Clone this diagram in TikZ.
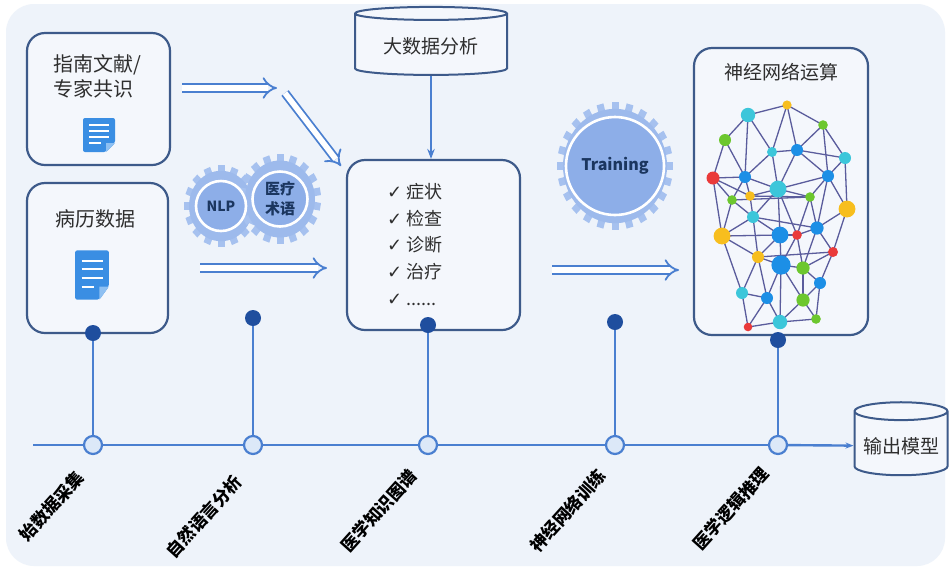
\documentclass[tikz,border=0pt]{standalone}
\usepackage{fontspec}
\setmainfont{Noto Sans CJK SC}
\newfontfamily\symfont{DejaVu Sans}
\usetikzlibrary{shapes.geometric,arrows.meta,positioning}

\definecolor{cardbg}{HTML}{EEF3FA}
\definecolor{boxfill}{HTML}{F4F7FC}
\definecolor{boxline}{HTML}{3D5A8A}
\definecolor{inktext}{HTML}{2E2E2E}
\definecolor{flowblue}{HTML}{4A7FD0}
\definecolor{ringfill}{HTML}{DCE8F8}
\definecolor{pinblue}{HTML}{1F4E9E}
\definecolor{gearteeth}{HTML}{A6C1EF}
\definecolor{gearbody}{HTML}{9DBAEC}
\definecolor{gearhub}{HTML}{8DAEE8}
\definecolor{inkhub}{HTML}{1B365F}
\definecolor{docblue}{HTML}{3A8EE3}
\definecolor{docfold}{HTML}{8EC0F2}
\definecolor{netline}{HTML}{5A5C9C}
\definecolor{netcyan}{HTML}{3CC6DA}
\definecolor{netblue}{HTML}{1C8FE6}
\definecolor{netgreen}{HTML}{6CC72E}
\definecolor{netyel}{HTML}{F7BE1E}
\definecolor{netred}{HTML}{EA3A3A}

\tikzset{
  docicon/.pic={
    \fill[docblue, rounded corners=1pt] (-16,-17) -- (16,-17) -- (16,8) -- (7,17) -- (-16,17) -- cycle;
    \fill[docfold] (16,8) -- (7,8) -- (7,17) -- cycle;
    \foreach \yy/\w in {-10/10, -4/10, 2/10, 8/2}
      \draw[white, line width=1pt] (-10,\yy) -- (\w,\yy);
  }
}

% dots of the network: name/x/y/colour/size
\def\netdots{n1/787/105/netyel/4.6, n2/748/115/netcyan/7.2, n3/823/125/netgreen/4.8,
  n4/725/140/netgreen/6, n5/772/152/netcyan/5, n6/797/150/netblue/6,
  n7/845/158/netcyan/6, n8/713/178/netred/6.5, n9/745/177/netblue/6,
  n10/828/176/netblue/6, n11/750/196/netyel/4.8, n12/778/189/netcyan/8.4,
  n13/732/200/netgreen/4.8, n14/810/197/netgreen/4.8, n15/847/209/netyel/8.4,
  n16/753/217/netcyan/6, n17/722/236/netyel/8.4, n18/780/235/netblue/8.4,
  n19/797/235/netred/4.8, n20/817/228/netblue/6.6, n21/833/252/netred/5,
  n22/758/257/netyel/6, n23/781/265/netblue/9.6, n24/803/268/netgreen/6.6,
  n25/820/283/netblue/6, n26/742/293/netcyan/6, n27/767/298/netblue/6,
  n28/803/300/netgreen/6.6, n29/748/327/netred/4.3, n30/780/322/netcyan/7.2,
  n31/816/319/netgreen/4.8}

\begin{document}
\begin{tikzpicture}[x=0.5pt, y=-0.5pt,
  infobox/.style={draw=boxline, line width=1.1pt, rounded corners=9pt, fill=boxfill},
  boxtext/.style={text=inktext, font=\fontsize{10}{12.5}\selectfont, align=left},
  dbcyl/.style={cylinder, shape border rotate=90, draw=boxline, line width=1pt,
    fill=boxfill, text=inktext, font=\fontsize{9.5}{11}\selectfont},
  fatarrow/.style={draw=flowblue, line width=0.9pt, double=white,
    double distance=2.8pt, -{Implies}},
  hub/.style={circle, fill=gearhub, draw=white, line width=1.3pt, inner sep=0pt,
    text=inkhub, font=\bfseries\fontsize{7}{8.5}\selectfont, align=center},
  ring/.style={circle, draw=flowblue, line width=1.1pt, fill=ringfill,
    minimum size=9pt, inner sep=0pt},
  pin/.style={circle, fill=pinblue, minimum size=8pt, inner sep=0pt},
  stem/.style={flowblue, line width=1.2pt},
  tllabel/.style={rotate=48, anchor=east, text=black,
    font=\bfseries\fontsize{8.6}{10}\selectfont},
  netdot/.style={circle, inner sep=0pt},
  netedge/.style={draw=netline, line width=0.65pt}]

  % card
  \fill[white] (0,0) rectangle (951,569);
  \fill[cardbg, rounded corners=14pt] (6,4) rectangle (945,566);
  \useasboundingbox (0,0) rectangle (951,569);

  % sources
  \node[infobox, minimum width=71.5pt, minimum height=66pt] (guide) at (98.5,99) {};
  \node[boxtext] (guidetxt) at (97,76) {指南文献/\\专家共识};
  \pic at (99,135) {docicon};
  \node[infobox, minimum width=70.5pt, minimum height=75pt] (record) at (97.5,258) {};
  \node[boxtext] (recordtxt) at (95,219) {病历数据};
  \pic[xscale=1.05, yscale=1.45] at (92,275) {docicon};

  % hollow arrows
  \coordinate (g1) at (182,88);  \coordinate (g2) at (277,88);
  \coordinate (g3) at (285,93);  \coordinate (g4) at (341,166);
  \coordinate (r1) at (200,268); \coordinate (r2) at (327,268);
  \coordinate (t1) at (552,270); \coordinate (t2) at (679,270);
  \draw[fatarrow] (g1) -- (g2);
  \draw[fatarrow] (g3) -- (g4);
  \draw[fatarrow] (r1) -- (r2);
  \draw[fatarrow] (t1) -- (t2);

  % gears
  \coordinate (nlpc) at (221,206);
  \coordinate (termc) at (280,199);
  \coordinate (trainc) at (615,166);
  \begin{scope}[shift={(nlpc)}, yscale=1.1]
    \foreach \a in {0,22.5,...,337.5}
      \fill[gearteeth, rotate=\a] (-3.5,-30) rectangle (3.5,-37);
    \fill[gearbody] (0,0) circle (32);
  \end{scope}
  \begin{scope}[shift={(termc)}, yscale=1.1]
    \foreach \a in {0,20,...,340}
      \fill[gearteeth, rotate=\a] (-3.5,-33) rectangle (3.5,-41);
    \fill[gearbody] (0,0) circle (35);
  \end{scope}
  \begin{scope}[shift={(trainc)}, yscale=1.1]
    \foreach \a in {0,15,...,345}
      \fill[gearteeth, rotate=\a] (-3.5,-50) rectangle (3.5,-58);
    \fill[gearbody] (0,0) circle (52);
  \end{scope}
  \node[hub, minimum size=25pt] (nlp) at (nlpc) {NLP};
  \node[hub, minimum size=27.5pt, font=\bfseries\fontsize{7.5}{10}\selectfont] (term) at (termc) {医疗\\术语};
  \node[hub, minimum size=49pt, font=\bfseries\fontsize{8}{9}\selectfont] (train) at (trainc) {Training};

  % knowledge graph
  \node[dbcyl, minimum width=76pt, minimum height=34pt, shape aspect=0.12] (bigdata) at (431,46) {大数据分析};
  \node[infobox, minimum width=86.5pt, minimum height=85pt] (kg) at (433.5,245) {};
  \draw[stem, -{Stealth[length=5pt]}] (bigdata.south) -- (bigdata.south |- kg.north);
  \node[boxtext, anchor=north west, font=\fontsize{9}{13.4}\selectfont] (kgitems) at (380,176)
    {{\symfont\small ✓} 症状\\ {\symfont\small ✓} 检查\\ {\symfont\small ✓} 诊断\\
     {\symfont\small ✓} 治疗\\ {\symfont\small ✓} ......};

  % neural network
  \node[infobox, minimum width=87pt, minimum height=143.5pt] (netbox) at (781,191.5) {};
  \node[boxtext, font=\fontsize{9.5}{11}\selectfont] (nettitle) at (781,72) {神经网络运算};
  \foreach \n/\x/\y/\c/\s in \netdots
    \coordinate (\n) at (\x,\y);
  \foreach \a/\b in {n2/n1, n1/n3, n3/n7, n2/n4, n4/n8, n2/n5, n1/n5, n1/n6,
      n3/n6, n6/n7, n5/n6, n2/n9, n4/n9, n8/n9, n5/n9, n5/n12, n6/n12, n6/n10,
      n7/n10, n3/n10, n8/n11, n8/n13, n9/n11, n9/n12, n11/n12, n12/n10,
      n12/n14, n10/n14, n10/n15, n7/n15, n13/n16, n11/n16, n12/n16, n8/n17,
      n13/n17, n16/n17, n16/n18, n12/n18, n12/n19, n14/n19, n14/n20, n15/n20,
      n10/n20, n18/n19, n19/n20, n15/n21, n20/n21, n17/n22, n16/n22, n18/n22,
      n18/n23, n19/n23, n22/n23, n19/n24, n23/n24, n21/n24, n20/n24, n21/n25,
      n24/n25, n17/n26, n22/n26, n22/n27, n23/n27, n26/n27, n23/n28, n24/n28,
      n25/n28, n23/n30, n27/n30, n26/n29, n29/n30, n30/n31, n28/n31, n25/n31,
      n28/n30, n29/n27, n13/n14, n11/n14, n22/n21, n13/n9, n16/n20, n17/n18}
    \draw[netedge] (\a) -- (\b);
  \foreach \n/\x/\y/\c/\s in \netdots
    \node[netdot, fill=\c, minimum size=\s pt] (v\n) at (\n) {};

  % time line
  \coordinate (tl) at (33,445);
  \node[ring] (c1) at (93,445) {};
  \node[ring] (c2) at (253,445) {};
  \node[ring] (c3) at (428,445) {};
  \node[ring] (c4) at (615,445) {};
  \node[ring] (c5) at (778,445) {};
  \node[dbcyl, minimum width=46.5pt, minimum height=36.5pt, shape aspect=0.2] (out) at (901,446) {输出模型};
  \draw[stem] (tl) -- (c1) (c1) -- (c2) (c2) -- (c3) (c3) -- (c4) (c4) -- (c5);
  \draw[stem, -{Stealth[length=4pt]}] (c5) -- (out);

  \node[pin] (p1) at (93,333) {};
  \node[pin] (p2) at (253,318) {};
  \node[pin] (p3) at (428,325) {};
  \node[pin] (p4) at (615,322) {};
  \node[pin] (p5) at (778,340) {};
  \foreach \i in {1,...,5}
    \draw[stem] (p\i) -- (c\i);

  \node[xshift=-4pt, yshift=-12pt, tllabel] (l1) at (c1) {始数据采集};
  \node[xshift=-5pt, yshift=-14pt, tllabel] (l2) at (c2) {自然语言分析};
  \node[xshift=-5pt, yshift=-11pt, tllabel] (l3) at (c3) {医学知识图谱};
  \node[xshift=-4pt, yshift=-11pt, tllabel] (l4) at (c4) {神经网络训练};
  \node[xshift=-4pt, yshift=-10pt, tllabel] (l5) at (c5) {医学逻辑推理};
\end{tikzpicture}
\end{document}
